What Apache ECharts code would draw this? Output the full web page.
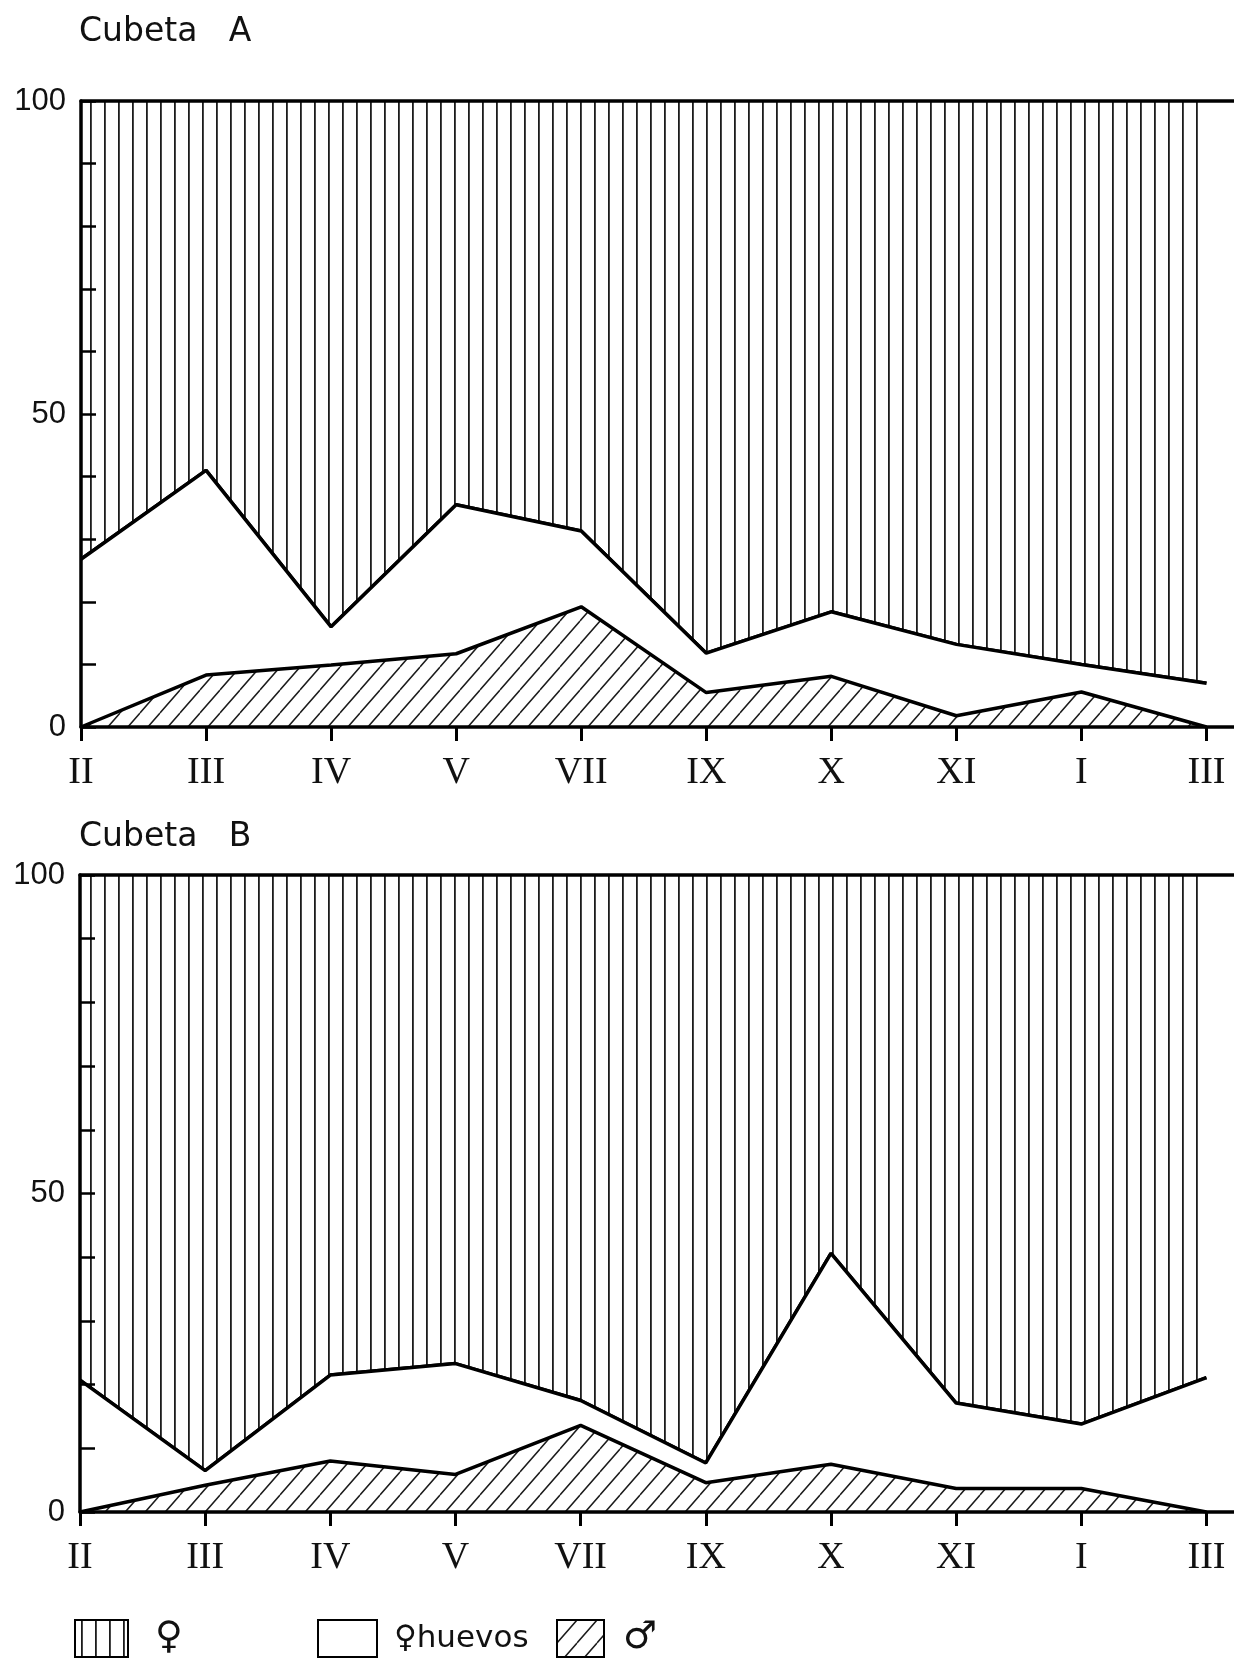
<!DOCTYPE html>
<html lang="es">
<head>
    <meta charset="UTF-8">
    <title>Cubeta A / Cubeta B</title>
    <script src="https://cdn.jsdelivr.net/npm/echarts@6/dist/echarts.min.js"></script>
    <style>html, body { margin: 0; padding: 0; background: #fff; }</style>
</head>
<body>
    <div id="main" style="width: 1234px;height:1660px;"></div>
</body>

<script>
  // meses de muestreo (eje x)
  const months = ['II', 'III', 'IV', 'V', 'VII', 'IX', 'X', 'XI', 'I', 'III']
  // ticks del eje y con etiqueta
  const yLabels = [0, 50, 100]

  // Cubeta A: linea superior (♂ + ♀huevos, %) y linea de machos (%)
  const upperA = [26.8, 41, 16, 35.5, 31.3, 11.8, 18.4, 13.2, 10, 7]
  const maleA = [0, 8.3, 9.9, 11.7, 19.2, 5.5, 8.1, 1.8, 5.6, 0]

  // Cubeta B
  const upperB = [20.7, 6.5, 21.5, 23.3, 17.5, 7.7, 40.6, 17.1, 13.8, 21.1]
  const maleB = [0, 4.2, 8.0, 5.9, 13.6, 4.6, 7.5, 3.7, 3.7, 0]

  const xMax = 9.22

  // rayado vertical (♀)
  function verticalHatch() {
    const c = document.createElement('canvas')
    c.width = 14
    c.height = 14
    const ctx = c.getContext('2d')
    ctx.fillStyle = '#1c1c1c'
    ctx.fillRect(6, 0, 1.8, 14)
    return { image: c, repeat: 'repeat' }
  }

  // rayado diagonal (♂)
  function diagonalHatch() {
    const w = 20, h = 23
    const c = document.createElement('canvas')
    c.width = w
    c.height = h
    const ctx = c.getContext('2d')
    ctx.strokeStyle = '#1c1c1c'
    ctx.lineWidth = 1.5
    ctx.beginPath()
    for (const k of [-w, 0, w]) {
      ctx.moveTo(k, h)
      ctx.lineTo(k + w, 0)
    }
    ctx.stroke()
    return { image: c, repeat: 'repeat' }
  }

  const vHatch = verticalHatch()
  const dHatch = diagonalHatch()

  const toPts = arr => arr.map((v, i) => [i, v])

  function xAxes(grid) {
    return [
      {
        type: 'value', gridIndex: grid, min: 0, max: xMax, z: 10,
        axisLine: { show: true, onZero: false, lineStyle: { color: '#000', width: 3.5 } },
        axisTick: {
          show: true, customValues: months.map((m, i) => i),
          length: 14, lineStyle: { color: '#000', width: 3 }
        },
        axisLabel: {
          customValues: months.map((m, i) => i),
          formatter: v => months[v],
          fontFamily: 'Liberation Serif', fontSize: 38, color: '#111', margin: 27
        },
        splitLine: { show: false }
      },
      {
        type: 'value', gridIndex: grid, min: 0, max: xMax, position: 'top', z: 10,
        axisLine: { show: true, onZero: false, lineStyle: { color: '#000', width: 3.5 } },
        axisTick: { show: false },
        axisLabel: { show: false },
        splitLine: { show: false }
      }
    ]
  }

  function yAxis(grid) {
    return {
      type: 'value', gridIndex: grid, min: 0, max: 100, interval: 10, z: 10,
      axisLine: { show: true, lineStyle: { color: '#000', width: 3.5 } },
      axisTick: { show: true, inside: true, length: 15, lineStyle: { color: '#000', width: 2.5 } },
      axisLabel: {
        customValues: yLabels,
        fontFamily: 'Liberation Sans', fontSize: 31, color: '#111', margin: 15
      },
      splitLine: { show: false }
    }
  }

  function seriesFor(upper, male, xi, yi) {
    const line = { color: '#000', width: 3.5 }
    return [
      {
        name: '♀', type: 'line', xAxisIndex: xi, yAxisIndex: yi, z: 2,
        data: toPts(upper), symbol: 'none', lineStyle: line,
        itemStyle: { color: '#000' },
        areaStyle: { origin: 'end', color: vHatch, opacity: 1 }
      },
      {
        name: '♀huevos', type: 'line', xAxisIndex: xi, yAxisIndex: yi, z: 3,
        data: toPts(upper), symbol: 'none', lineStyle: line,
        itemStyle: { color: '#000' },
        areaStyle: { origin: 'start', color: '#fff', opacity: 1 }
      },
      {
        name: '♂', type: 'line', xAxisIndex: xi, yAxisIndex: yi, z: 4,
        data: toPts(male), symbol: 'none', lineStyle: line,
        itemStyle: { color: '#000' },
        areaStyle: { origin: 'start', color: dHatch, opacity: 1 }
      }
    ]
  }

  const titleText = { fontFamily: 'DejaVu Sans', fontWeight: 'normal', fontSize: 33, color: '#111' }
  const legendText = { fontFamily: 'DejaVu Sans', fontSize: 31, color: '#111' }
  const legendBox = { borderColor: '#000', borderWidth: 2 }

  const myChart = echarts.init(document.getElementById('main'))

  const option = {
    animation: false,
    backgroundColor: '#fff',
    title: [
      { text: 'Cubeta   A', left: 79, top: 16, padding: 0, textStyle: titleText },
      { text: 'Cubeta   B', left: 79, top: 821, padding: 0, textStyle: titleText }
    ],
    grid: [
      { left: 81, right: 0, top: 101, height: 626 },
      { left: 80, right: 0, top: 875, height: 637 }
    ],
    xAxis: [...xAxes(0), ...xAxes(1)],
    yAxis: [yAxis(0), yAxis(1)],
    legend: [
      { left: 74, top: 1619, padding: 0, icon: 'rect', itemWidth: 53, itemHeight: 37,
        data: [{ name: '♀', itemStyle: { color: vHatch } }],
        itemStyle: legendBox, textStyle: { ...legendText, fontSize: 38, padding: [0, 0, 0, 22] } },
      { left: 317, top: 1619, padding: 0, icon: 'rect', itemWidth: 59, itemHeight: 37,
        data: [{ name: '♀huevos', itemStyle: { color: '#fff' } }],
        itemStyle: legendBox, textStyle: { ...legendText, padding: [0, 0, 0, 12] } },
      { left: 556, top: 1619, padding: 0, icon: 'rect', itemWidth: 47, itemHeight: 37,
        data: [{ name: '♂', itemStyle: { color: dHatch } }],
        itemStyle: legendBox, textStyle: { ...legendText, fontSize: 38, padding: [0, 0, 0, 14] } }
    ],
    series: [
      ...seriesFor(upperA, maleA, 0, 0),
      ...seriesFor(upperB, maleB, 2, 1)
    ]
  }

  myChart.setOption(option)
</script>

</html>
